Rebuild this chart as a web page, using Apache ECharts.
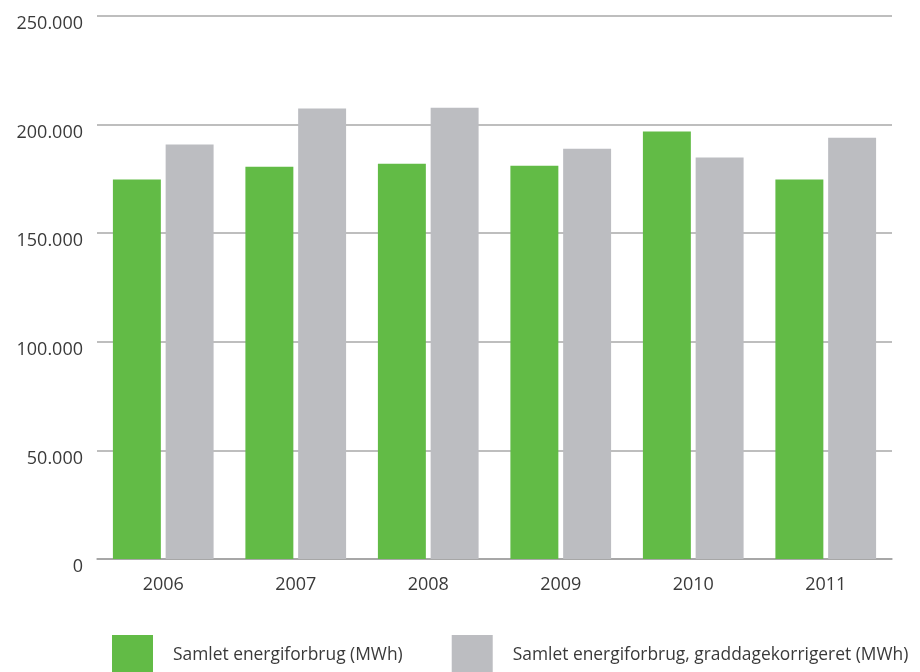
<!DOCTYPE html>
<html>
<head>
<meta charset="utf-8">
<script src="https://cdn.jsdelivr.net/npm/echarts@6/dist/echarts.min.js"></script>
<style>
  html, body { margin: 0; padding: 0; background: #fff; }
  #chart { width: 920px; height: 672px; }
</style>
</head>
<body>
<div id="chart"></div>
<script>
// Årligt energiforbrug 2006–2011
const years = ['2006', '2007', '2008', '2009', '2010', '2011'];
const totalConsumption = [174700, 180600, 182000, 181100, 196800, 174700];
const degreeDayCorrected = [190800, 207400, 207800, 188900, 184800, 194000];
const seriesNames = ['Samlet energiforbrug (MWh)', 'Samlet energiforbrug, graddagekorrigeret (MWh)'];

const fontFamily = '"Open Sans", "Noto Sans", sans-serif';

const chart = echarts.init(document.getElementById('chart'));
chart.setOption({
  animation: false,
  textStyle: { fontFamily: fontFamily },
  grid: { left: 97, right: 28, top: 16, bottom: 113 },
  legend: {
    left: 112,
    top: 635,
    width: 900,
    padding: 0,
    itemWidth: 41,
    itemHeight: 41,
    itemGap: 49,
    icon: 'rect',
    textStyle: {
      fontSize: 17.4,
      color: '#3a3a3a',
      fontFamily: fontFamily,
      padding: [4, 0, 0, 15]
    },
    data: seriesNames
  },
  xAxis: {
    type: 'category',
    data: years,
    axisTick: { show: false },
    axisLine: { lineStyle: { color: '#a0a0a0', width: 1.5 } },
    axisLabel: { fontSize: 18, color: '#3a3a3a', margin: 17 }
  },
  yAxis: {
    type: 'value',
    min: 0,
    max: 250000,
    interval: 50000,
    axisLine: { show: false },
    axisTick: { show: false },
    splitLine: { lineStyle: { color: '#a8a8a8', width: 1.5 } },
    axisLabel: {
      fontSize: 18,
      color: '#3a3a3a',
      margin: 14,
      verticalAlign: 'top',
      lineHeight: 16,
      formatter: v => v === 0 ? '0' : (v / 1000).toFixed(0) + '.000'
    }
  },
  series: [
    {
      name: seriesNames[0],
      type: 'bar',
      data: totalConsumption,
      barGap: '10%',
      barCategoryGap: '24%',
      itemStyle: { color: '#62bb46' }
    },
    {
      name: seriesNames[1],
      type: 'bar',
      data: degreeDayCorrected,
      itemStyle: { color: '#bcbdc1' }
    }
  ]
});
</script>
</body>
</html>
